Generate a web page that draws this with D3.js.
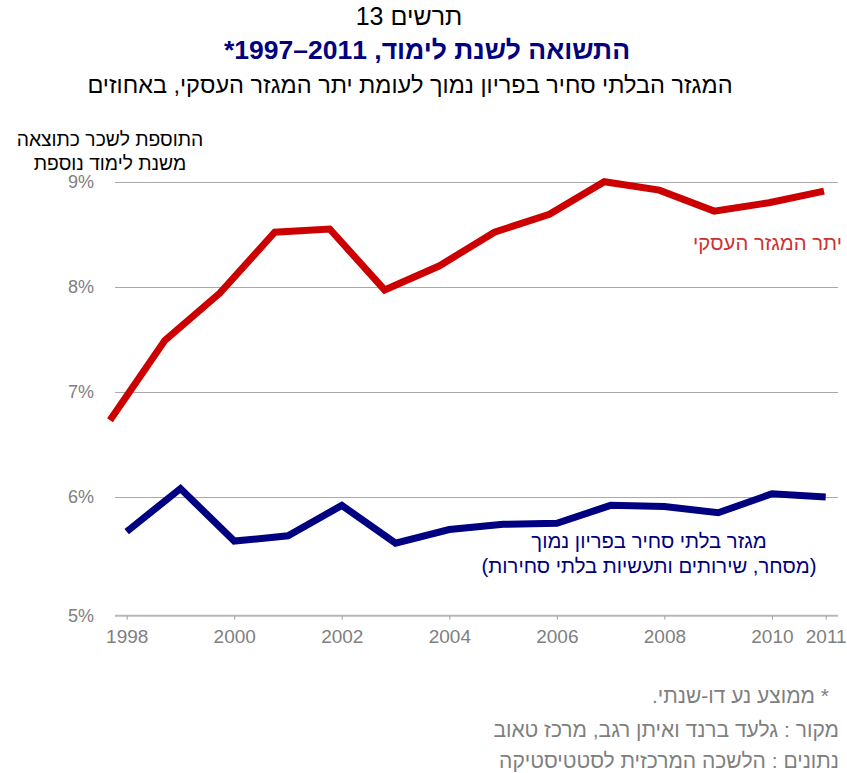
<!DOCTYPE html>
<html lang="he">
<head>
<meta charset="utf-8">
<script src="https://cdn.jsdelivr.net/npm/d3@7/dist/d3.min.js"></script>
<style>
  html, body { margin: 0; padding: 0; background: #ffffff; }
  svg { display: block; }
  text { font-family: "Liberation Sans", Arial, sans-serif; }
</style>
</head>
<body>
<svg id="chart" width="847" height="773"></svg>
<script>
// Years on the horizontal axis
const years = [1998, 1999, 2000, 2001, 2002, 2003, 2004, 2005, 2006, 2007, 2008, 2009, 2010, 2011];

// Return to an additional year of schooling, % (two-year moving average)
const restOfBusinessSector = [6.73, 7.49, 7.94, 8.52, 8.55, 7.97, 8.20, 8.52, 8.69, 9.00, 8.92, 8.72, 8.80, 8.91];
const lowProductivityNonTradable = [5.67, 6.08, 5.58, 5.63, 5.92, 5.56, 5.69, 5.74, 5.75, 5.92, 5.91, 5.85, 6.03, 6.00];

// Axis ticks
const xTickYears = [1998, 2000, 2002, 2004, 2006, 2008, 2010, 2011];
const yTickValues = [4.87, 6, 7, 8, 9];
const yTickLabels = ["5%", "6%", "7%", "8%", "9%"];

// Texts
const figureNumber = "תרשים 13";
const titleText = "התשואה לשנת לימוד, \u20661997–2011\u2069*";
const subtitleText = "המגזר הבלתי סחיר בפריון נמוך לעומת יתר המגזר העסקי, באחוזים";
const yTitleLines = ["התוספת לשכר כתוצאה", "משנת לימוד נוספת"];
const redLabel = "יתר המגזר העסקי";
const blueLabelLines = ["מגזר בלתי סחיר בפריון נמוך", "(מסחר, שירותים ותעשיות בלתי סחירות)"];
const footnotes = ["* ממוצע נע דו-שנתי.", "מקור : גלעד ברנד ואיתן רגב, מרכז טאוב", "נתונים : הלשכה המרכזית לסטטיסטיקה"];

const svg = d3.select("#chart");

const plot = { left: 115, right: 838, top: 181.7, bottom: 615.7 };

// Primary horizontal axis (labelled years)
const x = d3.scaleLinear()
  .domain([1998, 2011])
  .range([126.7, 825.7]);

// Secondary horizontal axis used by the business-sector series
const x2 = d3.scaleLinear()
  .domain([1998, 2011])
  .range([110, 824]);

const y = d3.scaleLinear()
  .domain([d3.min(yTickValues), d3.max(yTickValues)])
  .range([plot.bottom, plot.top]);

// Horizontal gridlines
svg.append("g")
  .selectAll("line")
  .data(yTickValues.filter(v => v !== d3.min(yTickValues)))
  .join("line")
  .attr("x1", plot.left)
  .attr("x2", plot.right)
  .attr("y1", d => Math.round(y(d)) + 0.5)
  .attr("y2", d => Math.round(y(d)) + 0.5)
  .attr("stroke", "#a9a9a9")
  .attr("stroke-width", 1.2);

// Y tick labels
svg.append("g")
  .selectAll("text")
  .data(yTickValues)
  .join("text")
  .attr("x", 94)
  .attr("y", d => y(d))
  .attr("dy", "0.36em")
  .attr("text-anchor", "end")
  .attr("fill", "#808080")
  .attr("font-size", 18)
  .text((d, i) => yTickLabels[i]);

// Bottom axis
const xAxis = d3.axisBottom(x)
  .tickValues(xTickYears)
  .tickFormat(d3.format("d"))
  .tickSize(4)
  .tickSizeOuter(0)
  .tickPadding(10);

const gx = svg.append("g")
  .attr("transform", `translate(0,${plot.bottom})`)
  .call(xAxis);
gx.select(".domain").remove();
gx.insert("line", ":first-child")
  .attr("x1", plot.left)
  .attr("x2", plot.right)
  .attr("stroke", "#b8b8b8")
  .attr("stroke-width", 2);
gx.selectAll(".tick line").attr("stroke", "#a0a0a0").attr("stroke-width", 1);
gx.selectAll(".tick text")
  .attr("fill", "#808080")
  .attr("font-size", 19)
  .attr("font-family", "Liberation Sans, Arial, sans-serif");

// Lines
const redLine = d3.line()
  .x((d, i) => x2(years[i]))
  .y(d => y(d));

const blueLine = d3.line()
  .x((d, i) => x(years[i]))
  .y(d => y(d));

svg.append("path")
  .datum(restOfBusinessSector)
  .attr("d", redLine)
  .attr("fill", "none")
  .attr("stroke", "#cc0000")
  .attr("stroke-width", 7)
  .attr("stroke-linejoin", "miter");

svg.append("path")
  .datum(lowProductivityNonTradable)
  .attr("d", blueLine)
  .attr("fill", "none")
  .attr("stroke", "#000080")
  .attr("stroke-width", 7)
  .attr("stroke-linejoin", "miter");

// Series labels
svg.append("text")
  .attr("x", 842)
  .attr("y", 250)
  .attr("direction", "rtl")
  .attr("text-anchor", "start")
  .attr("fill", "#cc3333")
  .attr("font-size", 20.3)
  .text(redLabel);

svg.append("g")
  .selectAll("text")
  .data(blueLabelLines)
  .join("text")
  .attr("x", 649)
  .attr("y", (d, i) => 548 + i * 25)
  .attr("direction", "rtl")
  .attr("text-anchor", "middle")
  .attr("fill", "#000080")
  .attr("font-size", 20.3)
  .text(d => d);

// Titles
svg.append("text")
  .attr("x", 409)
  .attr("y", 25)
  .attr("direction", "rtl")
  .attr("text-anchor", "middle")
  .attr("font-family", "Liberation Serif, 'Times New Roman', serif")
  .attr("font-size", 25)
  .attr("fill", "#000000")
  .text(figureNumber);

svg.append("text")
  .attr("x", 427)
  .attr("y", 59)
  .attr("direction", "rtl")
  .attr("text-anchor", "middle")
  .attr("font-family", "Liberation Serif, 'Times New Roman', serif")
  .attr("font-size", 26.5)
  .attr("font-weight", "bold")
  .attr("fill", "#000080")
  .text(titleText);

svg.append("text")
  .attr("x", 410)
  .attr("y", 93)
  .attr("direction", "rtl")
  .attr("text-anchor", "middle")
  .attr("font-size", 23.5)
  .attr("fill", "#000000")
  .text(subtitleText);

// Y-axis title
svg.append("g")
  .selectAll("text")
  .data(yTitleLines)
  .join("text")
  .attr("x", 110)
  .attr("y", (d, i) => 146 + i * 24)
  .attr("direction", "rtl")
  .attr("text-anchor", "middle")
  .attr("font-size", 19.3)
  .attr("fill", "#000000")
  .text(d => d);

// Footnotes
svg.append("g")
  .selectAll("text")
  .data(footnotes)
  .join("text")
  .attr("x", (d, i) => i === 0 ? 829 : 839)
  .attr("y", (d, i) => [703, 737, 768][i])
  .attr("direction", "rtl")
  .attr("text-anchor", "start")
  .attr("font-size", 21)
  .attr("fill", "#7f7f7f")
  .text(d => d);
</script>
</body>
</html>
